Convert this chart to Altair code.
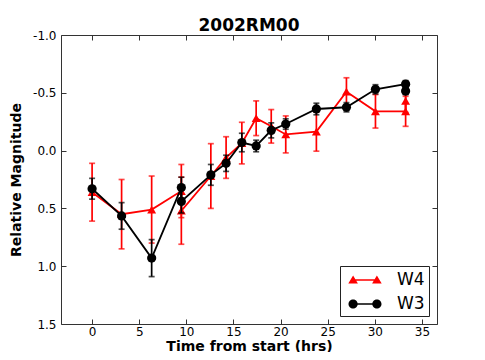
import altair as alt
import pandas as pd

# ---- data ----
t_w4 = [0.0, 3.13, 6.32, 9.47, 9.47, 12.6, 14.22, 15.89, 17.41, 19.01, 20.55, 23.8, 26.99, 30.07, 33.27, 33.27]
mag_w4 = [0.36, 0.55, 0.51, 0.35, 0.52, 0.22, 0.06, -0.065, -0.28, -0.21, -0.14, -0.165, -0.51, -0.34, -0.34, -0.43]
err_w4 = [0.25, 0.30, 0.29, 0.23, 0.29, 0.28, 0.18, 0.18, 0.15, 0.145, 0.16, 0.17, 0.12, 0.145, 0.13, 0.10]

t_w3 = [0.0, 3.13, 6.32, 9.47, 9.47, 12.6, 14.22, 15.89, 17.41, 19.01, 20.55, 23.8, 26.99, 30.07, 33.27, 33.27]
mag_w3 = [0.33, 0.565, 0.93, 0.32, 0.44, 0.21, 0.11, -0.07, -0.04, -0.175, -0.23, -0.36, -0.375, -0.53, -0.575, -0.515]
err_w3 = [0.09, 0.115, 0.16, 0.09, 0.10, 0.09, 0.07, 0.08, 0.05, 0.065, 0.045, 0.05, 0.04, 0.04, 0.03, 0.03]

series_names = ["W4", "W3"]
series_colors = ["#ff0000", "#000000"]
x_ticks = [0, 5, 10, 15, 20, 25, 30, 35]
y_ticks = [-1.0, -0.5, 0.0, 0.5, 1.0, 1.5]


def frame(name, t, m, e):
    return pd.DataFrame({
        "series": name, "t": t, "mag": m, "err": e,
        "lo": [a - b for a, b in zip(m, e)],
        "hi": [a + b for a, b in zip(m, e)],
        "idx": list(range(len(t))),
    })


df4 = frame("W4", t_w4, mag_w4, err_w4)
df3 = frame("W3", t_w3, mag_w3, err_w3)
df_all = pd.concat([df4, df3], ignore_index=True)

FONT = "DejaVu Sans"
xs = alt.Scale(domain=[-3.3, 36.6], nice=False, zero=False)
ys = alt.Scale(domain=[-1.0, 1.5], nice=False, zero=False, reverse=True)

common_ax = dict(grid=False, domain=False, tickSize=5, offset=-5, tickColor="#333",
                 tickWidth=1)
x_bottom = alt.Axis(orient="bottom", values=x_ticks, labelFont=FONT, labelFontSize=12,
                    labelColor="black", labelPadding=2, labelFlush=False,
                    title="Time from start (hrs)", titleFont=FONT, titleFontSize=14,
                    titleFontWeight="bold", titleColor="black", titlePadding=2, **common_ax)
y_left = alt.Axis(orient="left", values=y_ticks,
                  labelExpr="replace(format(datum.value, '.1f'), '\u2212', '-')",
                  labelFont=FONT, labelFontSize=12, labelColor="black", labelPadding=5,
                  labelFlush=False,
                  title="Relative Magnitude", titleFont=FONT, titleFontSize=14,
                  titleFontWeight="bold", titleColor="black", titlePadding=9, **common_ax)
x_top = alt.Axis(orient="top", values=x_ticks, labels=False, title=None, **common_ax)
y_right = alt.Axis(orient="right", values=y_ticks, labels=False, title=None, **common_ax)

layers = []
for df, col, shape, size, is_first in [(df4, series_colors[0], "triangle-up", 80, True),
                                        (df3, series_colors[1], "circle", 85, False)]:
    base = alt.Chart(df)
    rules = base.mark_rule(color=col, strokeWidth=1.7).encode(
        x=alt.X("t:Q", scale=xs, axis=x_bottom if is_first else x_top),
        y=alt.Y("lo:Q", scale=ys, axis=y_left if is_first else y_right),
        y2="hi:Q",
    )
    cap_lo = base.mark_tick(color=col, orient="horizontal", size=6, thickness=1.7).encode(
        x=alt.X("t:Q", scale=xs, axis=None), y=alt.Y("lo:Q", scale=ys, axis=None))
    cap_hi = base.mark_tick(color=col, orient="horizontal", size=6, thickness=1.7).encode(
        x=alt.X("t:Q", scale=xs, axis=None), y=alt.Y("hi:Q", scale=ys, axis=None))
    line = base.mark_line(color=col, strokeWidth=1.8).encode(
        x=alt.X("t:Q", scale=xs, axis=None), y=alt.Y("mag:Q", scale=ys, axis=None),
        order=alt.Order("idx:Q"))
    pts = base.mark_point(color=col, filled=True, opacity=1, shape=shape, size=size).encode(
        x=alt.X("t:Q", scale=xs, axis=None), y=alt.Y("mag:Q", scale=ys, axis=None))
    layers += [rules, cap_lo, cap_hi, line, pts]

# legend symbols: marker - line - marker, as in the reference (unit = 10 px,
# shifted right so the drawn symbol sits inside the legend box)
path_w4 = ("M-0.09,-0.46L0.39,0.36L-0.57,0.36Z M2.29,-0.46L2.77,0.36L1.81,0.36Z "
           "M-0.09,-0.077L2.29,-0.077L2.29,0.077L-0.09,0.077Z")
path_w3 = ("M-0.55,0A0.46,0.46 0 1,1 0.37,0A0.46,0.46 0 1,1 -0.55,0Z "
           "M1.83,0A0.46,0.46 0 1,1 2.75,0A0.46,0.46 0 1,1 1.83,0Z "
           "M-0.09,-0.077L2.29,-0.077L2.29,0.077L-0.09,0.077Z")

leg = alt.Legend(title=None, orient="bottom-right", offset=8, strokeColor="#222",
                 fillColor="white", padding=4, symbolSize=400, symbolOpacity=1,
                 symbolStrokeWidth=0, labelFont=FONT, labelFontSize=17,
                 labelColor="black", labelOffset=33, rowPadding=6, cornerRadius=0)
legend_layer = alt.Chart(df_all).mark_point(filled=True, opacity=0).encode(
    x=alt.X("t:Q", scale=xs, axis=None),
    y=alt.Y("mag:Q", scale=ys, axis=None),
    color=alt.Color("series:N", scale=alt.Scale(domain=series_names, range=series_colors),
                    legend=leg, sort=series_names),
    shape=alt.Shape("series:N", scale=alt.Scale(domain=series_names, range=[path_w4, path_w3]),
                    legend=leg, sort=series_names),
)
layers.append(legend_layer)

chart = alt.layer(*layers).resolve_axis(x="independent", y="independent").properties(
    width=376, height=289,
    autosize=alt.AutoSizeParams(type="none"),
    padding={"left": 53, "top": 27, "right": 40, "bottom": 28},
    title=alt.Title("2002RM00", font=FONT, fontSize=17, fontWeight="bold", color="black",
                    anchor="middle", offset=-6),
).configure_view(stroke="#333", strokeWidth=1)

chart.save("out.html", embed_options={"renderer": "svg", "actions": False})
